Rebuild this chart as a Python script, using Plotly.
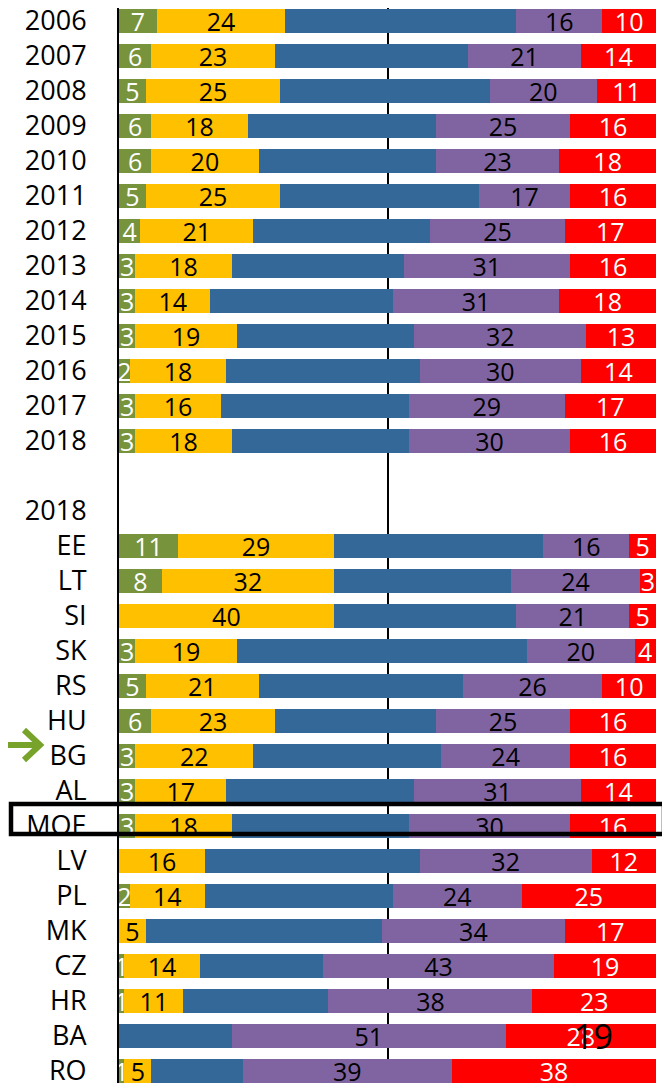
import plotly.graph_objects as go

rows = ["2006", "2007", "2008", "2009", "2010", "2011", "2012", "2013", "2014",
        "2015", "2016", "2017", "2018", "", "2018", "EE", "LT", "SI", "SK", "RS",
        "HU", "BG", "AL", "MOE", "LV", "PL", "MK", "CZ", "HR", "BA", "RO"]

green = [7, 6, 5, 6, 6, 5, 4, 3, 3, 3, 2, 3, 3, None, None,
         11, 8, 0, 3, 5, 6, 3, 3, 3, 0, 2, 0, 1, 1, 0, 1]
yellow = [24, 23, 25, 18, 20, 25, 21, 18, 14, 19, 18, 16, 18, None, None,
          29, 32, 40, 19, 21, 23, 22, 17, 18, 16, 14, 5, 14, 11, 0, 5]
blue = [43, 36, 39, 35, 33, 37, 33, 32, 34, 33, 36, 35, 33, None, None,
        39, 33, 34, 54, 38, 30, 35, 35, 33, 40, 35, 44, 23, 27, 21, 17]
purple = [16, 21, 20, 25, 23, 17, 25, 31, 31, 32, 30, 29, 30, None, None,
          16, 24, 21, 20, 26, 25, 24, 31, 30, 32, 24, 34, 43, 38, 51, 39]
red = [10, 14, 11, 16, 18, 16, 17, 16, 18, 13, 14, 17, 16, None, None,
       5, 3, 5, 4, 10, 16, 16, 14, 16, 12, 25, 17, 19, 23, 28, 38]

stray_label = "19"          # stray text box over the BA row
stray_row = "BA"

FONT = "Open Sans"
# page is rendered with an 8px body margin; the figure is sized to fill the rest
OFF = 8
PAGE_W, PAGE_H = 670, 1083
W, H = PAGE_W - OFF, PAGE_H - OFF
PLOT_L, PLOT_R = 119, 656          # page pixels of x = 0 and x = 100
ML, MR, MT, MB = PLOT_L - OFF, PAGE_W - PLOT_R, 0, 0
PITCH = 35.0                        # row pitch in pixels
FIRST_ROW_Y = 21.0                  # page y of the first row centre

ypos = list(range(len(rows)))

series = [
    (green, "#77933C", "white", True),
    (yellow, "#FFC000", "black", True),
    (blue, "#346899", "black", False),
    (purple, "#8064A2", "black", True),
    (red, "#FF0000", "white", True),
]

fig = go.Figure()
for vals, col, tcol, labelled in series:
    txt = [(str(v) if (labelled and v) else "") for v in vals]
    fig.add_trace(go.Bar(
        x=vals, y=ypos, orientation="h",
        marker=dict(color=col, line=dict(width=0)),
        text=txt, textposition="inside", insidetextanchor="middle",
        textangle=0, constraintext="none", cliponaxis=False,
        textfont=dict(family=FONT, size=25, color=tcol),
        hoverinfo="skip", showlegend=False,
    ))

pw = PLOT_R - PLOT_L
ph = H - MT - MB
plot_top_page = OFF + MT


def px_x(p):
    return (p - PLOT_L) / pw


def px_y(p):
    return (PAGE_H - MB - p) / ph


shapes = [
    # highlight box around MOE
    dict(type="rect", xref="paper", yref="paper",
         x0=px_x(11), x1=px_x(664), y0=px_y(834), y1=px_y(804),
         line=dict(color="black", width=4.5), fillcolor="rgba(0,0,0,0)", layer="above"),
    # green arrow pointing to BG
    dict(type="path", xref="paper", yref="paper",
         path=(f"M {px_x(0)},{px_y(745)} L {px_x(38)},{px_y(745)} "
               f"M {px_x(24)},{px_y(730)} L {px_x(40)},{px_y(745)} L {px_x(24)},{px_y(760)}"),
         line=dict(color="#77A32A", width=6), layer="above"),
]

top_idx = (plot_top_page - FIRST_ROW_Y) / PITCH
bot_idx = (PAGE_H - MB - FIRST_ROW_Y) / PITCH

fig.update_layout(
    width=W, height=H,
    margin=dict(l=ML, r=MR, t=MT, b=MB, autoexpand=False),
    paper_bgcolor="white", plot_bgcolor="white",
    barmode="stack", bargap=0.34,
    uniformtext=dict(mode="show", minsize=25),
    font=dict(family=FONT, color="black"),
    shapes=shapes,
    annotations=[dict(
        x=88.3, y=rows.index(stray_row), xref="x", yref="y",
        text=stray_label, showarrow=False,
        font=dict(family=FONT, size=34, color="black"),
    )],
)

fig.update_xaxes(
    range=[0, 100], tickvals=[50, 100], showticklabels=False,
    showgrid=True, gridcolor="black", gridwidth=1.5,
    zeroline=False, showline=False, fixedrange=True,
)
fig.update_yaxes(
    tickvals=ypos, ticktext=rows,
    range=[bot_idx, top_idx],
    showgrid=False, zeroline=False,
    showline=True, linecolor="black", linewidth=2,
    ticks="", ticklabelstandoff=25, automargin=False,
    ticklabeloverflow="allow",
    tickfont=dict(family=FONT, size=27, color="black"),
)

fig.write_html("out.html")
